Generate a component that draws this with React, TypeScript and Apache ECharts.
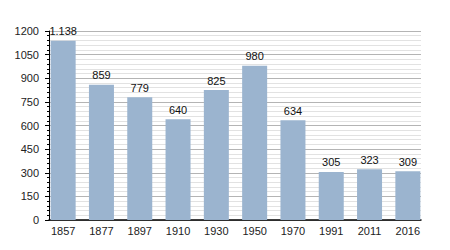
import React, { useEffect, useRef } from "react";
import * as echarts from "echarts";

const years = ["1857", "1877", "1897", "1910", "1930", "1950", "1970", "1991", "2011", "2016"];
const population = [1138, 859, 779, 640, 825, 980, 634, 305, 323, 309];
const yMin = 0;
const yMax = 1200;
const yStep = 150;

const fmt = (v: number) => {
  const s = String(v);
  return s.length > 3 ? s.slice(0, s.length - 3) + "." + s.slice(-3) : s;
};

export default function App() {
  const ref = useRef<HTMLDivElement>(null);
  useEffect(() => {
    const chart = echarts.init(ref.current!, null, { renderer: "svg" });
    const font = "Liberation Sans, Arial, sans-serif";
    chart.setOption({
      animation: false,
      grid: [
        { left: 49, right: 29, top: 31, bottom: 30 },
        { left: 44, right: 23, top: 31, bottom: 30 },
      ],
      xAxis: [
        {
          gridIndex: 0,
          type: "value",
          min: 0,
          max: 1,
          axisLine: { show: true, onZero: false, lineStyle: { color: "#000", width: 1.5 } },
          axisTick: { show: false },
          axisLabel: { show: false },
          splitLine: { show: false },
        },
        {
          gridIndex: 1,
          type: "category",
          data: years,
          axisLine: { show: false },
          axisTick: { show: false },
          axisLabel: { color: "#222", fontSize: 11, fontFamily: font, margin: 5 },
          splitLine: { show: false },
        },
      ],
      yAxis: [
        {
          gridIndex: 0,
          type: "value",
          min: yMin,
          max: yMax,
          interval: yStep,
          axisLine: { show: true, lineStyle: { color: "#000", width: 1 } },
          axisTick: { show: true, length: 4, lineStyle: { color: "#000" } },
          minorTick: { show: true, splitNumber: 5, length: 2, lineStyle: { color: "#000" } },
          axisLabel: {
            color: "#222",
            fontSize: 11,
            fontFamily: font,
            margin: 10,
            formatter: (v: number) => String(v),
          },
          splitLine: { show: true, lineStyle: { color: "#b4b4b4", width: 1 } },
          minorSplitLine: { show: true, lineStyle: { color: "#e2e2e2", width: 1 } },
        },
        {
          gridIndex: 1,
          type: "value",
          min: yMin,
          max: yMax,
          interval: yStep,
          show: false,
          splitLine: { show: false },
        },
      ],
      series: [
        {
          type: "bar",
          xAxisIndex: 1,
          yAxisIndex: 1,
          data: population,
          barWidth: 25,
          itemStyle: { color: "#9bb4cf" },
          label: {
            show: true,
            position: "top",
            distance: 4,
            color: "#111",
            fontSize: 11,
            fontFamily: font,
            formatter: (p: any) => fmt(p.value),
          },
        },
      ],
    });
    return () => chart.dispose();
  }, []);
  return <div ref={ref} style={{ width: 450, height: 250, margin: -8 }} />;
}
